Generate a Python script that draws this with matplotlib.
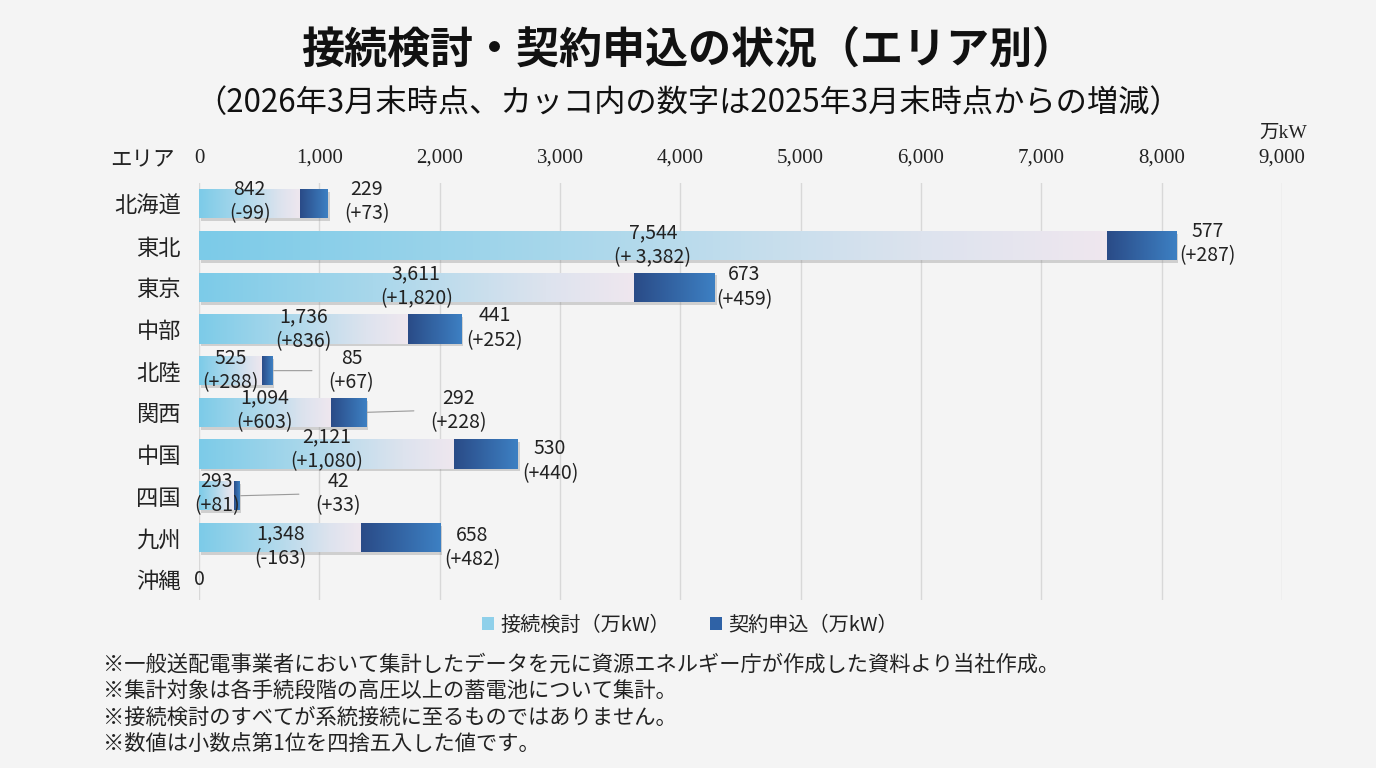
import numpy as np
import matplotlib
matplotlib.use("Agg")
import matplotlib.pyplot as plt
from matplotlib.colors import LinearSegmentedColormap
from matplotlib.patches import Patch
import matplotlib.patheffects as pe

plt.rcParams['font.family'] = ['Noto Sans CJK JP', 'DejaVu Sans']

# ---------------- data ----------------
areas = ["北海道", "東北", "東京", "中部", "北陸", "関西", "中国", "四国", "九州", "沖縄"]
kento = [842, 7544, 3611, 1736, 525, 1094, 2121, 293, 1348, 0]          # 接続検討 (万kW)
kento_diff = ["(-99)", "(+ 3,382)", "(+1,820)", "(+836)", "(+288)", "(+603)",
              "(+1,080)", "(+81)", "(-163)", ""]
moushikomi = [229, 577, 673, 441, 85, 292, 530, 42, 658, 0]             # 契約申込 (万kW)
moushikomi_diff = ["(+73)", "(+287)", "(+459)", "(+252)", "(+67)", "(+228)",
                   "(+440)", "(+33)", "(+482)", ""]
xticks = [0, 1000, 2000, 3000, 4000, 5000, 6000, 7000, 8000, 9000]
xticklabels = ["0", "1,000", "2,000", "3,000", "4,000", "5,000", "6,000", "7,000", "8,000", "9,000"]
notes = [
    "※一般送配電事業者において集計したデータを元に資源エネルギー庁が作成した資料より当社作成。",
    "※集計対象は各手続段階の高圧以上の蓄電池について集計。",
    "※接続検討のすべてが系統接続に至るものではありません。",
    "※数値は小数点第1位を四捨五入した値です。",
]

# ---------------- label layout (pixels) ----------------
k_dy = [2, 0, 1, 0, 0, 2, 5, 2, -9, 0]          # up shift of 接続検討 labels
m_dx = [39, 31, 30, 34, 79, 93, 32, 99, 32, 0]  # offset of 契約申込 label centre from bar end
m_dy = [2, 2, 0, 1, 0, 2, -7, 2, -10, 0]
leader = [False, False, False, False, True, True, False, True, False, False]

W, H = 1376, 768
fig = plt.figure(figsize=(W / 100, H / 100), dpi=100)
fig.patch.set_facecolor('#f4f4f4')

ax_l, ax_r, ax_t, ax_b = 199, 1282, 183, 600
ax = fig.add_axes([ax_l / W, 1 - ax_b / H, (ax_r - ax_l) / W, (ax_b - ax_t) / H])
ax.set_facecolor('none')

y = np.arange(len(areas))
bh = 0.70

cmap_k = LinearSegmentedColormap.from_list(
    'k', [(0, '#7ccbe8'), (0.4, '#a8d7eb'), (0.8, '#dde3ee'), (1.0, '#efe7ef')])
cmap_m = LinearSegmentedColormap.from_list('m', ['#2a4b87', '#3d80c3'])

shadow = [pe.SimplePatchShadow(offset=(1.5, -2), shadow_rgbFace='#8a8a8a', alpha=0.35), pe.Normal()]

bars_k = ax.barh(y, kento, height=bh, color='#a8d7eb', zorder=2, path_effects=shadow)
bars_m = ax.barh(y, moushikomi, left=kento, height=bh, color='#3366a8', zorder=2, path_effects=shadow)

g = np.linspace(0, 1, 256).reshape(1, -1)
for bars, cmap in ((bars_k, cmap_k), (bars_m, cmap_m)):
    for b in bars:
        w = b.get_width()
        if w <= 0:
            continue
        x0, y0, hh = b.get_x(), b.get_y(), b.get_height()
        im = ax.imshow(g, extent=[x0, x0 + w, y0 + hh, y0], aspect='auto', cmap=cmap,
                       zorder=2.5, interpolation='bilinear')
        im.set_clip_path(b)

lab_font = dict(fontsize=14, color='#222222', linespacing=1.22)

for i in range(len(areas)):
    if kento[i] == 0 and moushikomi[i] == 0:
        ax.text(0, y[i], "0", ha='center', va='center', fontsize=14, color='#222222', zorder=5)
        continue
    ax.annotate(f"{kento[i]:,}\n{kento_diff[i]}", xy=(kento[i] / 2, y[i]),
                xytext=(0, k_dy[i] * 0.72), textcoords='offset points',
                ha='center', va='center', zorder=5, **lab_font)
    end = kento[i] + moushikomi[i]
    kw = {}
    if leader[i]:
        kw['arrowprops'] = dict(arrowstyle='-', color='#9a9a9a', lw=0.8,
                                relpos=(0, 0.5), shrinkA=10, shrinkB=1)
    ax.annotate(f"{moushikomi[i]:,}\n{moushikomi_diff[i]}", xy=(end, y[i]),
                xytext=(m_dx[i] * 0.72, m_dy[i] * 0.72), textcoords='offset points',
                ha='center', va='center', zorder=5, **kw, **lab_font)

ax.set_xlim(0, 9000)
ax.set_ylim(len(areas) - 0.5, -0.5)
ax.xaxis.tick_top()
ax.set_xticks(xticks)
ax.set_xticklabels(xticklabels, fontfamily=['Liberation Serif'], fontsize=15, color='#222222')
ax.set_yticks(y)
ax.set_yticklabels(areas, fontsize=16, color='#222222')
ax.tick_params(axis='both', length=0)
ax.tick_params(axis='x', pad=11)
ax.tick_params(axis='y', pad=13)
ax.grid(axis='x', color='#d8d8d8', lw=1, zorder=0)
ax.set_axisbelow(True)
for s in ax.spines.values():
    s.set_visible(False)

# titles
fig.text(0.5, 1 - 50 / H, "接続検討・契約申込の状況（エリア別）", ha='center', va='center',
         fontsize=31, fontweight='bold', color='#111111')
fig.text(0.5, 1 - 103 / H, "（2026年3月末時点、カッコ内の数字は2025年3月末時点からの増減）",
         ha='center', va='center', fontsize=22.5, color='#111111')
fig.text(142 / W, 1 - 160 / H, "エリア", ha='center', va='center', fontsize=15.5, color='#222222')
fig.text(1283 / W, 1 - 133 / H, "万kW", ha='center', va='center', fontsize=14,
         family=['Liberation Serif', 'Noto Sans CJK JP'], color='#222222')

# legend
handles = [Patch(facecolor='#8fd0ea', edgecolor='none', label='接続検討（万kW）'),
           Patch(facecolor='#2f62a6', edgecolor='none', label='契約申込（万kW）')]
fig.legend(handles=handles, loc='center', bbox_to_anchor=(690 / W, 1 - 625 / H), ncol=2,
           frameon=False, fontsize=14.5, handlelength=0.6, handleheight=0.6,
           handletextpad=0.3, columnspacing=2.0, labelcolor='#222222')

# notes
for j, t in enumerate(notes):
    fig.text(103 / W, 1 - (665 + j * 26.3) / H, t, ha='left', va='center', fontsize=15.3,
             color='#222222')

fig.savefig("out.png", dpi=100, facecolor=fig.get_facecolor())
